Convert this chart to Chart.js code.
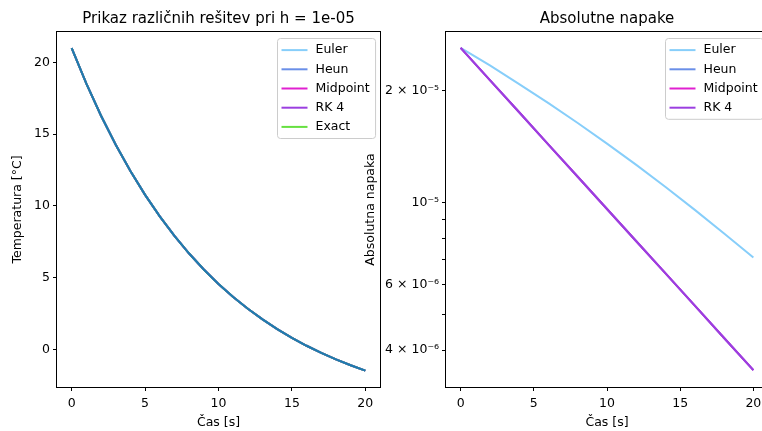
<!DOCTYPE html>
<html lang="sl">
<head>
  <meta charset="UTF-8" />
  <title>Prikaz različnih rešitev</title>
  <script src="https://cdn.jsdelivr.net/npm/chart.js"></script>
  <style>
    body { margin:0; background:#fff; overflow:hidden; width:762px; height:431px; position:relative; }
    canvas { position:absolute; top:0; }
    #levo { left:0; }
    #desno { left:360px; }
  </style>
</head>
<body>
  <canvas id="levo" width="390" height="431"></canvas>
  <canvas id="desno" width="420" height="431"></canvas>

  <script>
    // podatki, odčitani s slike
    const casT = [0,1,2,3,4,5,6,7,8,9,10,11,12,13,14,15,16,17,18,19,20];
    // pri h = 1e-05 se vse metode prekrivajo
    const temperatura = [21.00,18.53,16.29,14.26,12.43,10.77,9.27,7.91,6.68,5.57,4.56,
                         3.65,2.83,2.09,1.41,0.80,0.25,-0.25,-0.70,-1.11,-1.48];

    const casNapaka = [0,2,4,6,8,10,12,14,16,18,20];
    const napakaEuler = [2.61e-5,2.34e-5,2.085e-5,1.852e-5,1.637e-5,1.44e-5,1.262e-5,1.10e-5,9.55e-6,8.25e-6,7.10e-6];
    const napakaRK = [2.61e-5,2.137e-5,1.750e-5,1.432e-5,1.173e-5,9.60e-6,7.86e-6,6.44e-6,5.27e-6,4.31e-6,3.53e-6];

    const xTicks = [0,5,10,15,20];
    const tempTicks = [0,5,10,15,20];
    const napakaTicks = [4e-6,5e-6,6e-6,7e-6,8e-6,9e-6,1e-5,2e-5];
    const napakaTickLabels = ['4 × 10⁻⁶','','6 × 10⁻⁶','','','','10⁻⁵','2 × 10⁻⁵'];

    const barve = { euler:'#87cefa', heun:'#6a8fe8', midpoint:'#e020d0', rk4:'#9b3fe0', exact:'#66e040', c0:'#1f77b4' };

    const FONT = '"DejaVu Sans", sans-serif';
    Chart.defaults.font.family = FONT;
    Chart.defaults.font.size = 12.5;
    Chart.defaults.color = '#000';

    const pts = (xs, ys) => xs.map((x, i) => ({ x: x, y: ys[i] }));

    // okvir okoli grafa (kot matplotlib)
    const okvir = {
      id: 'okvir',
      afterDraw(chart) {
        const { ctx, chartArea: a } = chart;
        ctx.save();
        ctx.strokeStyle = '#000';
        ctx.lineWidth = 1;
        ctx.strokeRect(Math.round(a.left) - 0.5, Math.round(a.top) - 0.5, Math.round(a.right - a.left) + 1, Math.round(a.bottom - a.top) + 1);
        ctx.restore();
      }
    };

    // legenda v zgornjem desnem kotu
    const legenda = {
      id: 'legenda',
      afterDatasetsDraw(chart) {
        const { ctx, chartArea } = chart;
        const items = chart.data.datasets.filter(d => d.label);
        ctx.save();
        ctx.font = '12.5px ' + FONT;
        const textW = Math.max(...items.map(d => ctx.measureText(d.label).width));
        const rowH = 19.2;
        const w = 4 + 26 + 8 + textW + 6;
        const h = items.length * rowH + 4;
        const x = Math.round(chartArea.right - 5 - w) + 0.5;
        const y = Math.round(chartArea.top + 6) + 0.5;
        ctx.beginPath();
        if (ctx.roundRect) ctx.roundRect(x, y, w, h, 3); else ctx.rect(x, y, w, h);
        ctx.fillStyle = 'rgba(255,255,255,0.8)';
        ctx.fill();
        ctx.strokeStyle = '#cccccc';
        ctx.lineWidth = 1;
        ctx.stroke();
        items.forEach((d, i) => {
          const cy = y + 2 + rowH * (i + 0.5);
          ctx.strokeStyle = d.borderColor;
          ctx.lineWidth = 2;
          ctx.beginPath();
          ctx.moveTo(x + 4, cy);
          ctx.lineTo(x + 30, cy);
          ctx.stroke();
          ctx.fillStyle = '#000';
          ctx.textBaseline = 'middle';
          ctx.fillText(d.label, x + 38, cy);
        });
        ctx.restore();
      }
    };

    const tickGrid = { drawOnChartArea:false, drawTicks:true, tickLength:4, tickColor:'#000', color:'#000' };

    function xOs() {
      return {
        type: 'linear', min: -1, max: 21,
        border: { display:false },
        grid: tickGrid,
        ticks: { padding: 5, autoSkip:false, maxRotation:0, callback: v => String(v) },
        afterBuildTicks: s => { s.ticks = xTicks.map(v => ({ value: v })); },
        afterFit: s => { s.height = 44; },
        title: { display:true, text:'Čas [s]', padding:{ top:2, bottom:1 } }
      };
    }

    function ds(label, data, color, order) {
      return { label, data, borderColor: color, backgroundColor: color, borderWidth: 2, pointRadius: 0, tension: 0, fill:false, order };
    }

    new Chart(document.getElementById('levo'), {
      type: 'line',
      data: {
        datasets: [
          ds('Euler', pts(casT, temperatura), barve.euler, 6),
          ds('Heun', pts(casT, temperatura), barve.heun, 5),
          ds('Midpoint', pts(casT, temperatura), barve.midpoint, 4),
          ds('RK 4', pts(casT, temperatura), barve.rk4, 3),
          ds('Exact', pts(casT, temperatura), barve.exact, 2),
          ds('', pts(casT, temperatura), barve.c0, 1)
        ]
      },
      options: {
        responsive: false, animation: false, devicePixelRatio: 1,
        layout: { padding: { left:0, right:10, top:0, bottom:0 } },
        plugins: {
          legend: { display:false },
          tooltip: { enabled:false },
          title: { display:true, fullSize:false, text:'Prikaz različnih rešitev pri h = 1e-05',
                   font:{ size:15, weight:'normal' }, padding:{ top:10.5, bottom:3.5 }, color:'#000' }
        },
        scales: {
          x: xOs(),
          y: {
            type: 'linear', min: -2.625, max: 22.125,
            border: { display:false },
            grid: tickGrid,
            ticks: { padding: 3, autoSkip:false, callback: v => String(v) },
            afterBuildTicks: s => { s.ticks = tempTicks.map(v => ({ value: v })); },
            afterFit: s => { s.width = 57; },
            title: { display:true, text:'Temperatura [°C]', padding:{ top:10, bottom:0 } }
          }
        }
      },
      plugins: [okvir, legenda]
    });

    new Chart(document.getElementById('desno'), {
      type: 'line',
      data: {
        datasets: [
          ds('Euler', pts(casNapaka, napakaEuler), barve.euler, 4),
          ds('Heun', pts(casNapaka, napakaRK), barve.heun, 3),
          ds('Midpoint', pts(casNapaka, napakaRK), barve.midpoint, 2),
          ds('RK 4', pts(casNapaka, napakaRK), barve.rk4, 1)
        ]
      },
      options: {
        responsive: false, animation: false, devicePixelRatio: 1,
        layout: { padding: { left:0, right:12, top:0, bottom:0 } },
        plugins: {
          legend: { display:false },
          tooltip: { enabled:false },
          title: { display:true, fullSize:false, text:'Absolutne napake',
                   font:{ size:15, weight:'normal' }, padding:{ top:10.5, bottom:3.5 }, color:'#000' }
        },
        scales: {
          x: xOs(),
          y: {
            type: 'logarithmic', min: 3.18e-6, max: 2.88e-5,
            border: { display:false },
            grid: tickGrid,
            ticks: { padding: 3, autoSkip:false,
                     callback: (v) => { const i = napakaTicks.findIndex(t => Math.abs(t - v) / t < 1e-6); return i < 0 ? '' : napakaTickLabels[i]; } },
            afterBuildTicks: s => { s.ticks = napakaTicks.map(v => ({ value: v })); },
            afterFit: s => { s.width = 86; },
            title: { display:true, text:'Absolutna napaka', padding:{ top:3.5, bottom:0 } }
          }
        }
      },
      plugins: [okvir, legenda]
    });
  </script>
</body>
</html>
